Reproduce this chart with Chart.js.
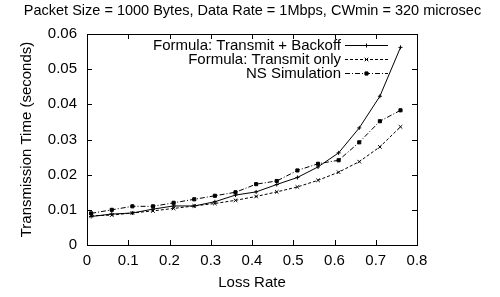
<!DOCTYPE html>
<html>
<head>
<meta charset="utf-8">
<script src="https://cdn.jsdelivr.net/npm/chart.js@4/dist/chart.umd.min.js"></script>
<style>
  html, body { margin: 0; padding: 0; background: #fff; }
  #wrap { width: 500px; height: 297px; }
</style>
</head>
<body>
<div id="wrap"><canvas id="lossChart"></canvas></div>
<script>
// loss rates sampled in the experiment
const lossRates = [0.01, 0.06, 0.11, 0.16, 0.21, 0.26, 0.31, 0.36, 0.41, 0.46, 0.51, 0.56, 0.61, 0.66, 0.71, 0.76];

// transmission time (seconds)
const backoffTimes  = [0.0081, 0.0088, 0.0091, 0.0102, 0.0111, 0.0111, 0.0123, 0.0142, 0.0151, 0.0172, 0.0192, 0.0222, 0.0262, 0.0333, 0.0423, 0.0562];
const transmitTimes = [0.0083, 0.0085, 0.0091, 0.0097, 0.0104, 0.0111, 0.0118, 0.0127, 0.0138, 0.0151, 0.0165, 0.0184, 0.0207, 0.0237, 0.0279, 0.0336];
const nsSimTimes    = [0.0090, 0.0100, 0.0110, 0.0110, 0.0120, 0.0130, 0.0140, 0.0150, 0.0173, 0.0182, 0.0212, 0.0231, 0.0241, 0.0292, 0.0352, 0.0383];

const seriesNames = ['Formula: Transmit + Backoff', 'Formula: Transmit only', 'NS Simulation'];
const chartTitle = 'Packet Size = 1000 Bytes, Data Rate = 1Mbps, CWmin = 320 microsec';

// tick labels
const xTicks = [0, 0.1, 0.2, 0.3, 0.4, 0.5, 0.6, 0.7, 0.8];
const yTicks = [0, 0.01, 0.02, 0.03, 0.04, 0.05, 0.06];

const FONT = 'Liberation Sans, Arial, Helvetica, sans-serif';
const FSIZE = 15;

function toPoints(ys) {
    return lossRates.map((x, i) => ({ x: x, y: ys[i] }));
}

// gnuplot style frame: box + inward ticks on all 4 sides, plus centred title
const framePlugin = {
    id: 'frame',
    afterDatasetsDraw(chart) {
        const ctx = chart.ctx;
        const a = chart.chartArea;
        const len = 5;
        ctx.save();
        ctx.strokeStyle = '#000';
        ctx.lineWidth = 1;
        ctx.strokeRect(Math.round(a.left) + 0.5, Math.round(a.top) + 0.5,
                       Math.round(a.right - a.left), Math.round(a.bottom - a.top));
        ctx.beginPath();
        chart.scales.x.ticks.forEach(t => {
            const px = Math.round(chart.scales.x.getPixelForValue(t.value)) + 0.5;
            ctx.moveTo(px, a.bottom); ctx.lineTo(px, a.bottom - len);
            ctx.moveTo(px, a.top); ctx.lineTo(px, a.top + len);
        });
        chart.scales.y.ticks.forEach(t => {
            const py = Math.round(chart.scales.y.getPixelForValue(t.value)) + 0.5;
            ctx.moveTo(a.left, py); ctx.lineTo(a.left + len, py);
            ctx.moveTo(a.right, py); ctx.lineTo(a.right - len, py);
        });
        ctx.stroke();

        ctx.font = '14.5px ' + FONT;
        ctx.fillStyle = '#000';
        ctx.textAlign = 'center';
        ctx.textBaseline = 'middle';
        ctx.fillText(chartTitle, 252.5, 11);
        ctx.restore();
    }
};

// legend inside plot, top right, text right aligned then line sample
const keyPlugin = {
    id: 'key',
    afterDraw(chart) {
        const ctx = chart.ctx;
        const a = chart.chartArea;
        const lineEnd = a.right - 29;
        const lineStart = lineEnd - 43;
        ctx.save();
        ctx.font = FSIZE + 'px ' + FONT;
        ctx.fillStyle = '#000';
        ctx.textAlign = 'right';
        ctx.textBaseline = 'middle';
        chart.data.datasets.forEach((ds, i) => {
            const y = Math.round(a.top + 11 + i * 14) + 0.5;
            ctx.fillText(ds.label, lineStart - 4, y);
            ctx.beginPath();
            ctx.setLineDash(ds.borderDash || []);
            ctx.lineWidth = ds.borderWidth;
            ctx.strokeStyle = '#000';
            ctx.moveTo(lineStart, y);
            ctx.lineTo(lineEnd, y);
            ctx.stroke();
            ctx.setLineDash([]);
            Chart.helpers.drawPoint(ctx, {
                pointStyle: ds.pointStyle, radius: ds.pointRadius, borderWidth: 1
            }, (lineStart + lineEnd) / 2, y);
            ctx.fill();
        });
        ctx.restore();
    }
};

const ctx = document.getElementById('lossChart').getContext('2d');
const lossChart = new Chart(ctx, {
    type: 'line',
    data: {
        datasets: [
            {
                label: seriesNames[0],
                data: toPoints(backoffTimes),
                borderColor: '#000', backgroundColor: '#000',
                borderWidth: 1, pointStyle: 'cross', pointRadius: 2,
                pointBorderWidth: 1
            },
            {
                label: seriesNames[1],
                data: toPoints(transmitTimes),
                borderColor: '#000', backgroundColor: '#000',
                borderWidth: 1, borderDash: [3, 2], pointStyle: 'crossRot', pointRadius: 2.5,
                pointBorderWidth: 1
            },
            {
                label: seriesNames[2],
                data: toPoints(nsSimTimes),
                borderColor: '#000', backgroundColor: '#000',
                borderWidth: 1, borderDash: [5, 2, 1, 2], pointStyle: 'rect', pointRadius: 2.2,
                pointBorderWidth: 1
            }
        ]
    },
    options: {
        responsive: true,
        maintainAspectRatio: false,
        animation: false,
        devicePixelRatio: 1,
        layout: { padding: { left: 0, right: 83, top: 34, bottom: 0 } },
        plugins: {
            legend: { display: false },
            tooltip: { enabled: false },
            title: { display: false }
        },
        scales: {
            x: {
                type: 'linear',
                min: 0, max: 0.8,
                afterBuildTicks: s => { s.ticks = xTicks.map(v => ({ value: v })); },
                afterFit: s => { s.height = 52; },
                grid: { display: false, drawTicks: false },
                border: { display: false },
                ticks: {
                    color: '#000', padding: 7, maxRotation: 0,
                    font: { family: FONT, size: FSIZE },
                    callback: v => String(+v.toFixed(2))
                },
                title: {
                    display: true, text: 'Loss Rate', color: '#000',
                    font: { family: FONT, size: FSIZE },
                    padding: { top: 0, bottom: 5 }
                }
            },
            y: {
                type: 'linear',
                min: 0, max: 0.06,
                afterBuildTicks: s => { s.ticks = yTicks.map(v => ({ value: v })); },
                afterFit: s => { s.width = 87; },
                grid: { display: false, drawTicks: false },
                border: { display: false },
                ticks: {
                    color: '#000', padding: 10,
                    font: { family: FONT, size: FSIZE },
                    callback: v => String(+v.toFixed(3))
                },
                title: {
                    display: true, text: 'Transmission Time (seconds)', color: '#000',
                    font: { family: FONT, size: FSIZE },
                    padding: { top: 18, bottom: 0 }
                }
            }
        }
    },
    plugins: [framePlugin, keyPlugin]
});
</script>
</body>
</html>
